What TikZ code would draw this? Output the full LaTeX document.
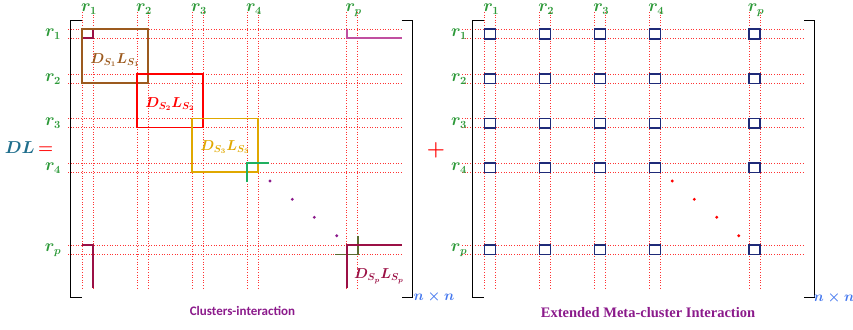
\documentclass[tikz,border=0pt]{standalone}
\usepackage{amsmath}
\usepackage{fontspec}
\newfontfamily\capsans{Carlito}
\newfontfamily\capserif{Liberation Serif}
\usetikzlibrary{positioning}
\definecolor{labgreen}{HTML}{2E9A3A}
\definecolor{dlblue}{HTML}{1F6E8C}
\definecolor{nnblue}{HTML}{4477EE}
\definecolor{capurple}{HTML}{8B1A8B}
\definecolor{boxbrown}{HTML}{9C5A1E}
\definecolor{boxgold}{HTML}{E0A800}
\definecolor{boxmaroon}{HTML}{9B1045}
\definecolor{boxpink}{HTML}{C04FA0}
\definecolor{boxgreen}{HTML}{20B060}
\definecolor{boxolive}{HTML}{5A6B30}
\definecolor{sqnavy}{HTML}{1F2A78}

\begin{document}
\begin{tikzpicture}[
x=1pt,
y=-1pt,
grid line/.style={red!80,dotted,line width=0.6pt},
brack/.style={black,line width=0.9pt},
blk/.style={line width=1.6pt},
sq/.style={sqnavy,line width=1.6pt},
collab/.style={text=labgreen,font=\fontsize{16}{16}\selectfont\boldmath,inner sep=0pt,anchor=base},
rowlab/.style={text=labgreen,font=\fontsize{16}{16}\selectfont\boldmath,inner sep=0pt},
blklab/.style={font=\fontsize{14}{14}\selectfont\boldmath,inner sep=0pt},
nnlab/.style={text=nnblue,font=\fontsize{14}{14}\selectfont\boldmath,inner sep=0pt},
dot/.style={circle,fill,inner sep=0pt,minimum size=3.2pt}]
\useasboundingbox (0,0) rectangle (853,329);
%left grid
\foreach \c in {82,137,192,247,346.7}{
  \draw[grid line] (\c,12) -- (\c,288);
  \draw[grid line] (\c+11,12) -- (\c+11,288);
}
\foreach \r in {29.3,74,118.3,163,245}{
  \draw[grid line] (68,\r) -- (403,\r);
  \draw[grid line] (68,\r+9) -- (403,\r+9);
}
%right grid
\foreach \c in {484.3,539.3,594.3,649.3,749}{
  \draw[grid line] (\c,12) -- (\c,288);
  \draw[grid line] (\c+11,12) -- (\c+11,288);
}
\foreach \r in {29.3,74,118.3,163,245}{
  \draw[grid line] (462,\r) -- (805,\r);
  \draw[grid line] (462,\r+9) -- (805,\r+9);
}
%labels
\foreach \c/\i in {82/1,137/2,192/3,247/4,346.7/p}
  \node[collab] (lc\i) at (\c+7,11.5) {$r_{\i}$};
\foreach \r/\i in {29.3/1,74/2,118.3/3,163/4,245/p}
  \node[rowlab] (lr\i) at (53,\r+5) {$r_{\i}$};
\foreach \c/\i in {484.3/1,539.3/2,594.3/3,649.3/4,749/p}
  \node[collab] (rc\i) at (\c+7,11.5) {$r_{\i}$};
\foreach \r/\i in {29.3/1,74/2,118.3/3,163/4,245/p}
  \node[rowlab] (rr\i) at (459,\r+5) {$r_{\i}$};
%brackets
\draw[brack] (82,20) -- (70.7,20) -- (70.7,297) -- (82,297);
\draw[brack] (401.7,20) -- (412.7,20) -- (412.7,297) -- (401.7,297);
\draw[brack] (484,20) -- (472.7,20) -- (472.7,297) -- (484,297);
\draw[brack] (804,20) -- (814.3,20) -- (814.3,297) -- (804,297);
%blocks
\draw[blk,boxmaroon] (82,29.3) rectangle (93,38.3);
\draw[blk,boxbrown] (82,29.3) rectangle (148,82.7);
\draw[blk,red] (137,74) rectangle (203,127.3);
\draw[blk,boxgold] (192,118.3) rectangle (258,172);
\draw[blk,boxgreen] (247,181.7) -- (247,163) -- (269,163);
\draw[blk,boxolive] (357.7,236) -- (357.7,254.3) -- (335,254.3);
\draw[blk,boxmaroon] (346.7,288) -- (346.7,245) -- (402,245);
\draw[blk,boxmaroon] (82,245) -- (93,245) -- (93,288);
\draw[blk,boxpink] (346.7,29.3) -- (346.7,38.3) -- (402,38.3);
\node[blklab,text=boxbrown] (b1) at (115,60) {$D_{S_1}L_{S_1}$};
\node[blklab,text=red] (b2) at (170,104) {$D_{S_2}L_{S_2}$};
\node[blklab,text=boxgold] (b3) at (225,147) {$D_{S_3}L_{S_3}$};
\node[blklab,text=boxmaroon] (bp) at (379,276) {$D_{S_p}L_{S_p}$};
%dots
\foreach \x/\y [count=\k] in {270/181,292.3/199.3,314.3/217.3,336.7/235.7}
  \node[dot,capurple] (ld\k) at (\x,\y) {};
\foreach \x/\y [count=\k] in {672.3/181,694.3/199.3,716.7/217.3,738.7/235.7}
  \node[dot,red] (rd\k) at (\x,\y) {};
%squares
\foreach \c in {484.3,539.3,594.3,649.3,749}
  \foreach \r in {29.3,74,118.3,163,245}
    \draw[sq] (\c,\r) rectangle (\c+11,\r+9.5);
%texts
\node[font=\fontsize{17}{17}\selectfont\boldmath,inner sep=0pt] (dl) at (29,148) {$\textcolor{dlblue}{DL}\,\textcolor{red}{=}$};
\node[font=\fontsize{22}{22}\selectfont\boldmath,text=red,inner sep=0pt] (plus) at (436,150) {$+$};
\node[nnlab] (nn1) at (434,297) {$n\times n$};
\node[nnlab] (nn2) at (834,298) {$n\times n$};
\node[text=capurple,font=\capsans\bfseries\fontsize{13}{13}\selectfont] (cap1) at (242.5,311) {Clusters-interaction};
\node[text=capurple,font=\capserif\bfseries\fontsize{14.5}{14.5}\selectfont] (cap2) at (648,313) {Extended Meta-cluster Interaction};
\end{tikzpicture}
\end{document}
